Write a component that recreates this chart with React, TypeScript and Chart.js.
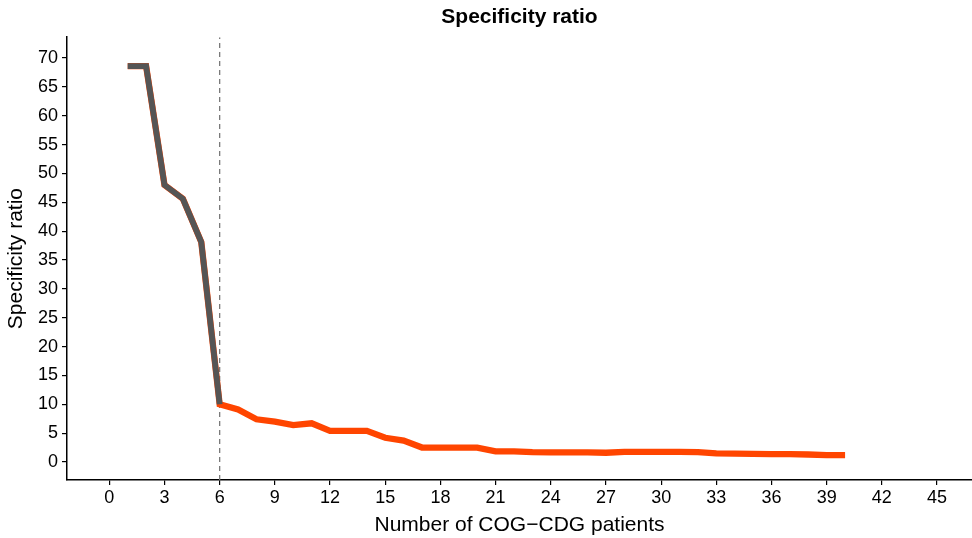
import React, { useEffect, useRef } from "react";
import { Chart, registerables } from "chart.js";

Chart.register(...registerables);

const patients = [1,2,3,4,5,6,7,8,9,10,11,12,13,14,15,16,17,18,19,20,21,22,23,24,25,26,27,28,29,30,31,32,33,34,35,36,37,38,39,40];
const ratio = [68.6,68.6,48.0,45.6,38.1,10.0,9.1,7.4,7.0,6.4,6.7,5.4,5.4,5.4,4.2,3.7,2.5,2.5,2.5,2.5,1.85,1.85,1.7,1.65,1.65,1.65,1.6,1.75,1.75,1.75,1.75,1.7,1.5,1.45,1.4,1.35,1.35,1.3,1.2,1.2];
const highlightCount = 6;
const cutoff = 6;
const xTicks = [0,3,6,9,12,15,18,21,24,27,30,33,36,39,42,45];
const yTicks = [0,5,10,15,20,25,30,35,40,45,50,55,60,65,70];
const xRange = [-2.3, 46.9];
const yRange = [-3.12, 73.6];

export default function App() {
  const ref = useRef<HTMLCanvasElement>(null);
  useEffect(() => {
    const ctx = ref.current!;
    const all = patients.map((p, i) => ({ x: p, y: ratio[i] }));
    const top = all.slice(0, highlightCount);
    const font = "'Liberation Sans', Arial, sans-serif";
    const chart = new Chart(ctx, {
      type: "line",
      data: {
        datasets: [
          {
            data: [{ x: cutoff, y: yRange[0] }, { x: cutoff, y: yRange[1] }],
            borderColor: "#7a7a7a",
            borderWidth: 1.3,
            borderDash: [5, 4],
            pointRadius: 0,
            order: 2,
          },
          {
            data: all,
            borderColor: "#FF4500",
            borderWidth: 6.3,
            pointRadius: 0,
            tension: 0,
            order: 1,
          },
          {
            data: top,
            borderColor: "#555555",
            borderWidth: 5.8,
            pointRadius: 0,
            tension: 0,
            order: 0,
          },
        ],
      },
      options: {
        animation: false,
        responsive: false,
        maintainAspectRatio: false,
        layout: { padding: { left: 0, right: 0, top: 0, bottom: 0 } },
        plugins: {
          legend: { display: false },
          tooltip: { enabled: false },
          title: {
            display: true,
            fullSize: false,
            text: "Specificity ratio",
            color: "#000",
            font: { family: font, size: 21, weight: "bold" },
            padding: { top: 5, bottom: 7 },
          },
        },
        scales: {
          x: {
            type: "linear",
            min: xRange[0],
            max: xRange[1],
            afterBuildTicks: (s: any) => { s.ticks = xTicks.map((v) => ({ value: v })); },
            afterFit: (s: any) => { s.height = 58; },
            ticks: { color: "#000", font: { family: font, size: 18 }, padding: 2, autoSkip: false, maxRotation: 0 },
            grid: { drawOnChartArea: false, drawTicks: true, tickLength: 5, color: "#000", lineWidth: 1.2 },
            border: { display: true, color: "#000", width: 1.5 },
            title: { display: true, text: "Number of COG\u2212CDG patients", color: "#000", font: { family: font, size: 21 }, padding: { top: 2, bottom: 0 } },
          },
          y: {
            type: "linear",
            min: yRange[0],
            max: yRange[1],
            afterBuildTicks: (s: any) => { s.ticks = yTicks.map((v) => ({ value: v })); },
            afterFit: (s: any) => { s.width = 67; },
            ticks: { color: "#000", font: { family: font, size: 18 }, padding: 4, autoSkip: false },
            grid: { drawOnChartArea: false, drawTicks: true, tickLength: 5, color: "#000", lineWidth: 1.2 },
            border: { display: true, color: "#000", width: 1.5 },
            title: { display: true, text: "Specificity ratio", color: "#000", font: { family: font, size: 21 }, padding: { top: 4, bottom: 0 } },
          },
        },
      },
    });
    return () => chart.destroy();
  }, []);
  return (
    <div style={{ position: "fixed", left: 0, top: 0, width: 972, height: 538, background: "#fff" }}>
      <canvas ref={ref} width={972} height={538} style={{ width: 972, height: 538, display: "block" }} />
    </div>
  );
}
